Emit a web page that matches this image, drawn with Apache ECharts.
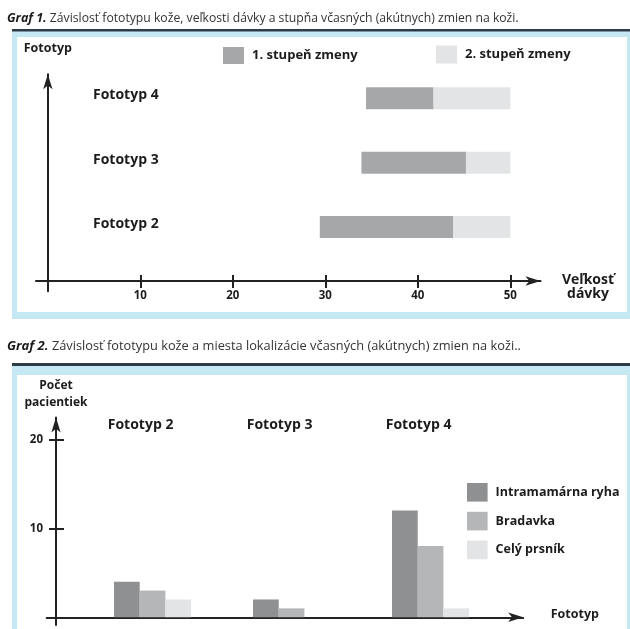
<!DOCTYPE html>
<html>
<head>
<meta charset="utf-8">
<script src="https://cdn.jsdelivr.net/npm/echarts@6/dist/echarts.min.js"></script>
<style>
  html, body { margin: 0; padding: 0; background: #ffffff; }
  #chart { width: 630px; height: 629px; }
</style>
</head>
<body>
<div id="chart"></div>
<script>
// ---- Graf 1: dose ranges per phototype ----
const phototypes1 = ['Fototyp 2', 'Fototyp 3', 'Fototyp 4'];
const stage1Start = [29.4, 33.9, 34.4];
const stage1End = [43.8, 45.2, 41.7];
const stage2End = [50, 50, 50];
const doseTicks = [10, 20, 30, 40, 50];
const stageNames = ['1. stupeň zmeny', '2. stupeň zmeny'];

// ---- Graf 2: patient counts by location ----
const phototypes2 = ['Fototyp 2', 'Fototyp 3', 'Fototyp 4'];
const siteNames = ['Intramamárna ryha', 'Bradavka', 'Celý prsník'];
const furrowCounts = [4, 2, 12];
const nippleCounts = [3, 1, 8];
const wholeBreastCounts = [2, 0, 1];
const countTicks = [10, 20];

const FONT = 'Open Sans';
const TXT = '#1c1c1c';
const AX = '#222222';
const BLUE = '#c6e7f4';
const NAVY = '#2f3c47';
const BAR_H = 22;

const chart = echarts.init(document.getElementById('chart'), null, { renderer: 'canvas' });

const pos1 = phototypes1.map((_, i) => i + 1);
const pos2 = phototypes2.map((_, i) => i + 1);

function rangeBar(params, api) {
  const a = api.coord([api.value(0), api.value(2)]);
  const b = api.coord([api.value(1), api.value(2)]);
  return {
    type: 'rect',
    shape: { x: a[0], y: a[1] - BAR_H / 2, width: b[0] - a[0], height: BAR_H },
    style: api.style()
  };
}

const arrowLine = {
  lineStyle: { color: AX, width: 2 },
  symbol: ['none', 'arrow'],
  symbolSize: [7, 15]
};
const boldText = (size) => ({ fontFamily: FONT, fontWeight: 'bold', fontSize: size, color: TXT });
const captionStyle = (size) => ({
  fontFamily: FONT, fontSize: size, fontWeight: 'normal', color: '#333333',
  rich: { g: { fontFamily: FONT, fontSize: size + 0.3, fontWeight: 'bold', fontStyle: 'italic', color: '#1a1a1a' } }
});

const option = {
  animation: false,
  graphic: {
    elements: [
      { type: 'rect', z: -10, shape: { x: 12, y: 31, width: 618, height: 288 }, style: { fill: BLUE } },
      { type: 'rect', z: -9, shape: { x: 17, y: 37, width: 610, height: 275 }, style: { fill: '#ffffff' } },
      { type: 'rect', z: -8, shape: { x: 12, y: 29, width: 618, height: 2.5 }, style: { fill: NAVY } },
      { type: 'rect', z: -10, shape: { x: 12, y: 366, width: 618, height: 270 }, style: { fill: BLUE } },
      { type: 'rect', z: -9, shape: { x: 17, y: 375, width: 610, height: 260 }, style: { fill: '#ffffff' } },
      { type: 'rect', z: -8, shape: { x: 12, y: 363, width: 618, height: 3 }, style: { fill: NAVY } }
    ]
  },
  title: [
    {
      text: '{g|Graf 1.} Závislosť fototypu kože, veľkosti dávky a stupňa včasných (akútnych) zmien na koži.',
      left: 7, top: 12, padding: 0, textStyle: captionStyle(12.2)
    },
    {
      text: '{g|Graf 2.} Závislosť fototypu kože a miesta lokalizácie včasných (akútnych) zmien na koži..',
      left: 7, top: 340, padding: 0, textStyle: captionStyle(12.8)
    }
  ],
  legend: [
    {
      data: [stageNames[0]], left: 223, top: 47, padding: 0,
      itemWidth: 21, itemHeight: 17, icon: 'rect',
      textStyle: Object.assign(boldText(13), { padding: [0, 0, 0, 3] })
    },
    {
      data: [stageNames[1]], left: 436, top: 45.5, padding: 0,
      itemWidth: 21, itemHeight: 18, icon: 'rect',
      textStyle: Object.assign(boldText(13), { padding: [0, 0, 0, 3] })
    },
    {
      data: siteNames, orient: 'vertical', left: 467, top: 483, padding: 0,
      itemWidth: 20.6, itemHeight: 18.6, itemGap: 10.2, icon: 'rect',
      textStyle: Object.assign(boldText(12.5), { padding: [0, 0, 0, 3] })
    }
  ],
  grid: [
    { left: 36, right: 89.5, top: 74.2, bottom: 629 - 291.35, outerBoundsMode: 'none' },
    { left: 46.7, right: 630 - 523.2, top: 417.5, bottom: 4, outerBoundsMode: 'none' }
  ],
  xAxis: [
    {
      gridIndex: 0, type: 'value', min: -1.28, max: 53.26, position: 'bottom', offset: -10.35,
      axisLine: Object.assign({ onZero: false }, arrowLine),
      axisTick: { customValues: doseTicks, length: 7, lineStyle: { color: AX, width: 2 } },
      axisLabel: Object.assign({ customValues: doseTicks, margin: 9 }, boldText(11.5)),
      splitLine: { show: false },
      name: 'Veľkosť\ndávky', nameLocation: 'end', nameGap: 47.5, nameMoveOverlap: false,
      nameTextStyle: Object.assign({ align: 'center', verticalAlign: 'top', lineHeight: 14, padding: [-7.5, 0, 0, 0] }, boldText(14))
    },
    {
      gridIndex: 0, type: 'value', min: -1.28, max: 53.26, position: 'bottom', offset: -10.35,
      axisLine: { show: false, onZero: false },
      axisTick: { customValues: doseTicks, inside: true, length: 6, lineStyle: { color: AX, width: 2 } },
      axisLabel: { show: false },
      splitLine: { show: false }
    },
    {
      gridIndex: 1, type: 'value', min: 0.2383, max: 3.6664, position: 'bottom',
      axisLine: Object.assign({ onZero: true, onZeroAxisIndex: 2 }, arrowLine),
      axisTick: { show: false },
      axisLabel: Object.assign({
        customValues: pos2, inside: true, margin: 200, verticalAlign: 'middle',
        padding: [0, 24, 0, 0],
        formatter: (v) => phototypes2[Math.round(v) - 1]
      }, boldText(14)),
      splitLine: { show: false },
      name: 'Fototyp', nameLocation: 'end', nameGap: 27.5, nameMoveOverlap: false,
      nameTextStyle: Object.assign({ align: 'left', verticalAlign: 'bottom', lineHeight: 6 }, boldText(12.5))
    }
  ],
  yAxis: [
    {
      gridIndex: 0, type: 'value', min: 0, max: 3.375, position: 'left',
      axisLine: Object.assign({ onZero: true, onZeroAxisIndex: 0 }, arrowLine),
      axisTick: { show: false },
      axisLabel: Object.assign({
        customValues: pos1, inside: true, margin: 57, align: 'left', verticalAlign: 'bottom',
        lineHeight: 6,
        formatter: (v) => phototypes1[Math.round(v) - 1]
      }, boldText(14)),
      splitLine: { show: false },
      name: 'Fototyp', nameLocation: 'end', nameGap: 26, nameMoveOverlap: false,
      nameTextStyle: Object.assign({ align: 'center', verticalAlign: 'middle' }, boldText(12.5))
    },
    {
      gridIndex: 1, type: 'value', min: -0.87, max: 22.45, position: 'left', offset: -9.3,
      axisLine: Object.assign({ onZero: false }, arrowLine),
      axisTick: { customValues: countTicks, length: 7, lineStyle: { color: AX, width: 2 } },
      axisLabel: Object.assign({ customValues: countTicks, margin: 13 }, boldText(11.5)),
      splitLine: { show: false },
      name: 'Počet\npacientiek', nameLocation: 'end', nameGap: 23.5, nameMoveOverlap: false,
      nameTextStyle: Object.assign({ align: 'center', verticalAlign: 'middle', lineHeight: 17.5 }, boldText(12))
    },
    {
      gridIndex: 1, type: 'value', min: -0.87, max: 22.45, position: 'left', offset: -9.3,
      axisLine: { show: false, onZero: false },
      axisTick: { customValues: countTicks, inside: true, length: 8, lineStyle: { color: AX, width: 2 } },
      axisLabel: { show: false },
      splitLine: { show: false }
    }
  ],
  series: [
    {
      name: stageNames[0], type: 'custom', xAxisIndex: 0, yAxisIndex: 0,
      renderItem: rangeBar, encode: { x: [0, 1], y: 2 },
      itemStyle: { color: '#a6a7a9' },
      data: pos1.map((p, i) => [stage1Start[i], stage1End[i], p])
    },
    {
      name: stageNames[1], type: 'custom', xAxisIndex: 0, yAxisIndex: 0,
      renderItem: rangeBar, encode: { x: [0, 1], y: 2 },
      itemStyle: { color: '#e3e4e6' },
      data: pos1.map((p, i) => [stage1End[i], stage2End[i], p])
    },
    {
      name: siteNames[0], type: 'bar', xAxisIndex: 2, yAxisIndex: 1,
      barWidth: 25.7, barGap: '0%', itemStyle: { color: '#8f9092' },
      data: pos2.map((p, i) => [p, furrowCounts[i]])
    },
    {
      name: siteNames[1], type: 'bar', xAxisIndex: 2, yAxisIndex: 1,
      barWidth: 25.7, barGap: '0%', itemStyle: { color: '#b5b6b8' },
      data: pos2.map((p, i) => [p, nippleCounts[i]])
    },
    {
      name: siteNames[2], type: 'bar', xAxisIndex: 2, yAxisIndex: 1,
      barWidth: 25.7, barGap: '0%', itemStyle: { color: '#e3e4e6' },
      data: pos2.map((p, i) => [p, wholeBreastCounts[i]])
    }
  ]
};

chart.setOption(option);
</script>
</body>
</html>
